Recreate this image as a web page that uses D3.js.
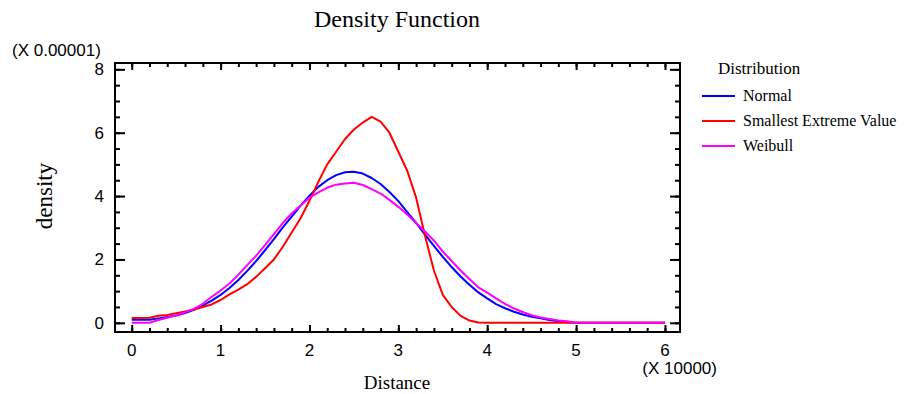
<!DOCTYPE html>
<html>
<head>
<meta charset="utf-8">
<script src="https://cdn.jsdelivr.net/npm/d3@7"></script>
<style>
  html, body { margin: 0; padding: 0; background: #fff; }
  svg { display: block; }
</style>
</head>
<body>
<svg id="chart" width="906" height="394"></svg>
<script>
// ---- data (x in units of 10000, density in units of 0.00001) ----
const distance = [0.0,0.1,0.2,0.3,0.4,0.5,0.6,0.7,0.8,0.9,1.0,1.1,1.2,1.3,1.4,1.5,1.6,1.7,1.8,1.9,
  2.0,2.1,2.2,2.3,2.4,2.5,2.6,2.7,2.8,2.9,3.0,3.1,3.2,3.3,3.4,3.5,3.6,3.7,3.8,3.9,
  4.0,4.1,4.2,4.3,4.4,4.5,4.6,4.7,4.8,4.9,5.0,5.1,5.2,5.3,5.4,5.5,5.6,5.7,5.8,5.9,6.0];
const normal = [0.10,0.10,0.10,0.14,0.18,0.23,0.31,0.41,0.54,0.70,0.88,1.10,1.35,1.64,1.95,2.29,2.64,3.01,3.35,3.70,
  4.01,4.29,4.50,4.66,4.75,4.77,4.71,4.57,4.38,4.13,3.84,3.49,3.15,2.78,2.43,2.08,1.76,1.46,1.20,0.96,
  0.77,0.59,0.46,0.35,0.26,0.19,0.14,0.09,0.05,0.02,0.0,0.0,0.0,0.0,0.0,0.0,0.0,0.0,0.0,0.0,0.0];
const smallestExtreme = [0.15,0.15,0.16,0.22,0.25,0.30,0.36,0.42,0.50,0.58,0.72,0.90,1.05,1.22,1.45,1.72,2.00,2.40,2.85,3.30,
  3.85,4.45,5.00,5.40,5.80,6.10,6.32,6.50,6.35,6.00,5.40,4.80,3.95,2.75,1.65,0.88,0.50,0.22,0.07,0.01,
  0.0,0.0,0.0,0.0,0.0,0.0,0.0,0.0,0.0,0.0,0.0,0.0,0.0,0.0,0.0,0.0,0.0,0.0,0.0,0.0,0.0];
const weibull = [0.0,0.0,0.0,0.09,0.16,0.24,0.33,0.44,0.60,0.82,1.02,1.24,1.52,1.82,2.12,2.45,2.80,3.15,3.45,3.70,
  3.95,4.12,4.27,4.36,4.40,4.42,4.35,4.22,4.08,3.88,3.66,3.42,3.15,2.88,2.60,2.25,1.95,1.65,1.38,1.12,
  0.95,0.77,0.60,0.45,0.34,0.24,0.17,0.12,0.07,0.05,0.0,0.0,0.0,0.0,0.0,0.0,0.0,0.0,0.0,0.0,0.0];
const seriesNames = ["Normal", "Smallest Extreme Value", "Weibull"];
const seriesColors = ["#0000ff", "#ff0000", "#ff00ff"];
const xTickValues = [0, 1, 2, 3, 4, 5, 6];
const yTickValues = [0, 2, 4, 6, 8];

// ---- layout ----
const svg = d3.select("#chart");
const L = 115, R = 680, T = 63, B = 332;
const x = d3.scaleLinear().domain([-0.188, 6.169]).range([L, R]);
const y = d3.scaleLinear().domain([-0.29, 8.2]).range([B, T]);

const serif = "'Liberation Serif', 'Times New Roman', serif";
const sans = "'Liberation Sans', Arial, sans-serif";

// title
svg.append("text").attr("x", 397).attr("y", 27).attr("text-anchor", "middle")
  .attr("font-family", serif).attr("font-size", 24).text("Density Function");

// curves (clipped)
svg.append("clipPath").attr("id", "clip").append("rect")
  .attr("x", L).attr("y", T).attr("width", R - L).attr("height", B - T);
const allSeries = [normal, smallestExtreme, weibull];
const line = d3.line().x((d, i) => x(distance[i])).y(d => y(d));
const g = svg.append("g").attr("clip-path", "url(#clip)");
allSeries.forEach((s, k) => {
  g.append("path").datum(s).attr("d", line)
    .attr("fill", "none").attr("stroke", seriesColors[k]).attr("stroke-width", 2)
    .attr("stroke-linejoin", "round");
});

// axes ticks via d3 axes (inward)
const xMinor = d3.range(0, 6.001, 0.2).map(v => +v.toFixed(1));
const yMinor = d3.range(0, 8.001, 0.5);
function styleAxis(sel) {
  sel.select(".domain").remove();
  sel.selectAll("line").attr("stroke", "#000").attr("stroke-width", 2);
}
// bottom
svg.append("g").attr("transform", `translate(0,${B})`)
  .call(d3.axisTop(x).tickValues(xMinor).tickSize(4).tickFormat("")).call(styleAxis);
svg.append("g").attr("transform", `translate(0,${B})`)
  .call(d3.axisTop(x).tickValues(xTickValues).tickSize(7).tickFormat("")).call(styleAxis);
// top
svg.append("g").attr("transform", `translate(0,${T})`)
  .call(d3.axisBottom(x).tickValues(xMinor).tickSize(4).tickFormat("")).call(styleAxis);
svg.append("g").attr("transform", `translate(0,${T})`)
  .call(d3.axisBottom(x).tickValues(xTickValues).tickSize(7).tickFormat("")).call(styleAxis);
// left
svg.append("g").attr("transform", `translate(${L},0)`)
  .call(d3.axisRight(y).tickValues(yMinor).tickSize(5).tickFormat("")).call(styleAxis);
svg.append("g").attr("transform", `translate(${L},0)`)
  .call(d3.axisRight(y).tickValues(yTickValues).tickSize(10).tickFormat("")).call(styleAxis);
// right
svg.append("g").attr("transform", `translate(${R},0)`)
  .call(d3.axisLeft(y).tickValues(yMinor).tickSize(5).tickFormat("")).call(styleAxis);
svg.append("g").attr("transform", `translate(${R},0)`)
  .call(d3.axisLeft(y).tickValues(yTickValues).tickSize(10).tickFormat("")).call(styleAxis);

// frame
svg.append("rect").attr("x", L).attr("y", T).attr("width", R - L).attr("height", B - T)
  .attr("fill", "none").attr("stroke", "#000").attr("stroke-width", 2);

// tick labels
svg.append("g").selectAll("text").data(xTickValues).join("text")
  .attr("x", d => x(d)).attr("y", 356).attr("text-anchor", "middle")
  .attr("font-family", sans).attr("font-size", 17).text(d => d);
svg.append("g").selectAll("text").data(yTickValues).join("text")
  .attr("x", 104).attr("y", d => y(d) + 6).attr("text-anchor", "end")
  .attr("font-family", sans).attr("font-size", 17).text(d => d);

// scale notes
svg.append("text").attr("x", 12).attr("y", 56).attr("font-family", sans)
  .attr("font-size", 17).text("(X 0.00001)");
svg.append("text").attr("x", 717).attr("y", 374).attr("text-anchor", "end")
  .attr("font-family", sans).attr("font-size", 17).text("(X 10000)");

// axis titles
svg.append("text").attr("x", 397).attr("y", 389).attr("text-anchor", "middle")
  .attr("font-family", serif).attr("font-size", 19).text("Distance");
svg.append("text").attr("transform", "translate(52,196) rotate(-90)")
  .attr("text-anchor", "middle").attr("font-family", serif).attr("font-size", 23).text("density");

// legend
svg.append("text").attr("x", 718).attr("y", 74).attr("font-family", serif)
  .attr("font-size", 17).text("Distribution");
const lg = svg.append("g").selectAll("g").data(seriesNames).join("g")
  .attr("transform", (d, i) => `translate(0,${96 + i * 25})`);
lg.append("line").attr("x1", 702).attr("x2", 735).attr("y1", 0).attr("y2", 0)
  .attr("stroke", (d, i) => seriesColors[i]).attr("stroke-width", 2);
lg.append("text").attr("x", 743).attr("y", 5).attr("font-family", serif)
  .attr("font-size", 16).text(d => d);
</script>
</body>
</html>
